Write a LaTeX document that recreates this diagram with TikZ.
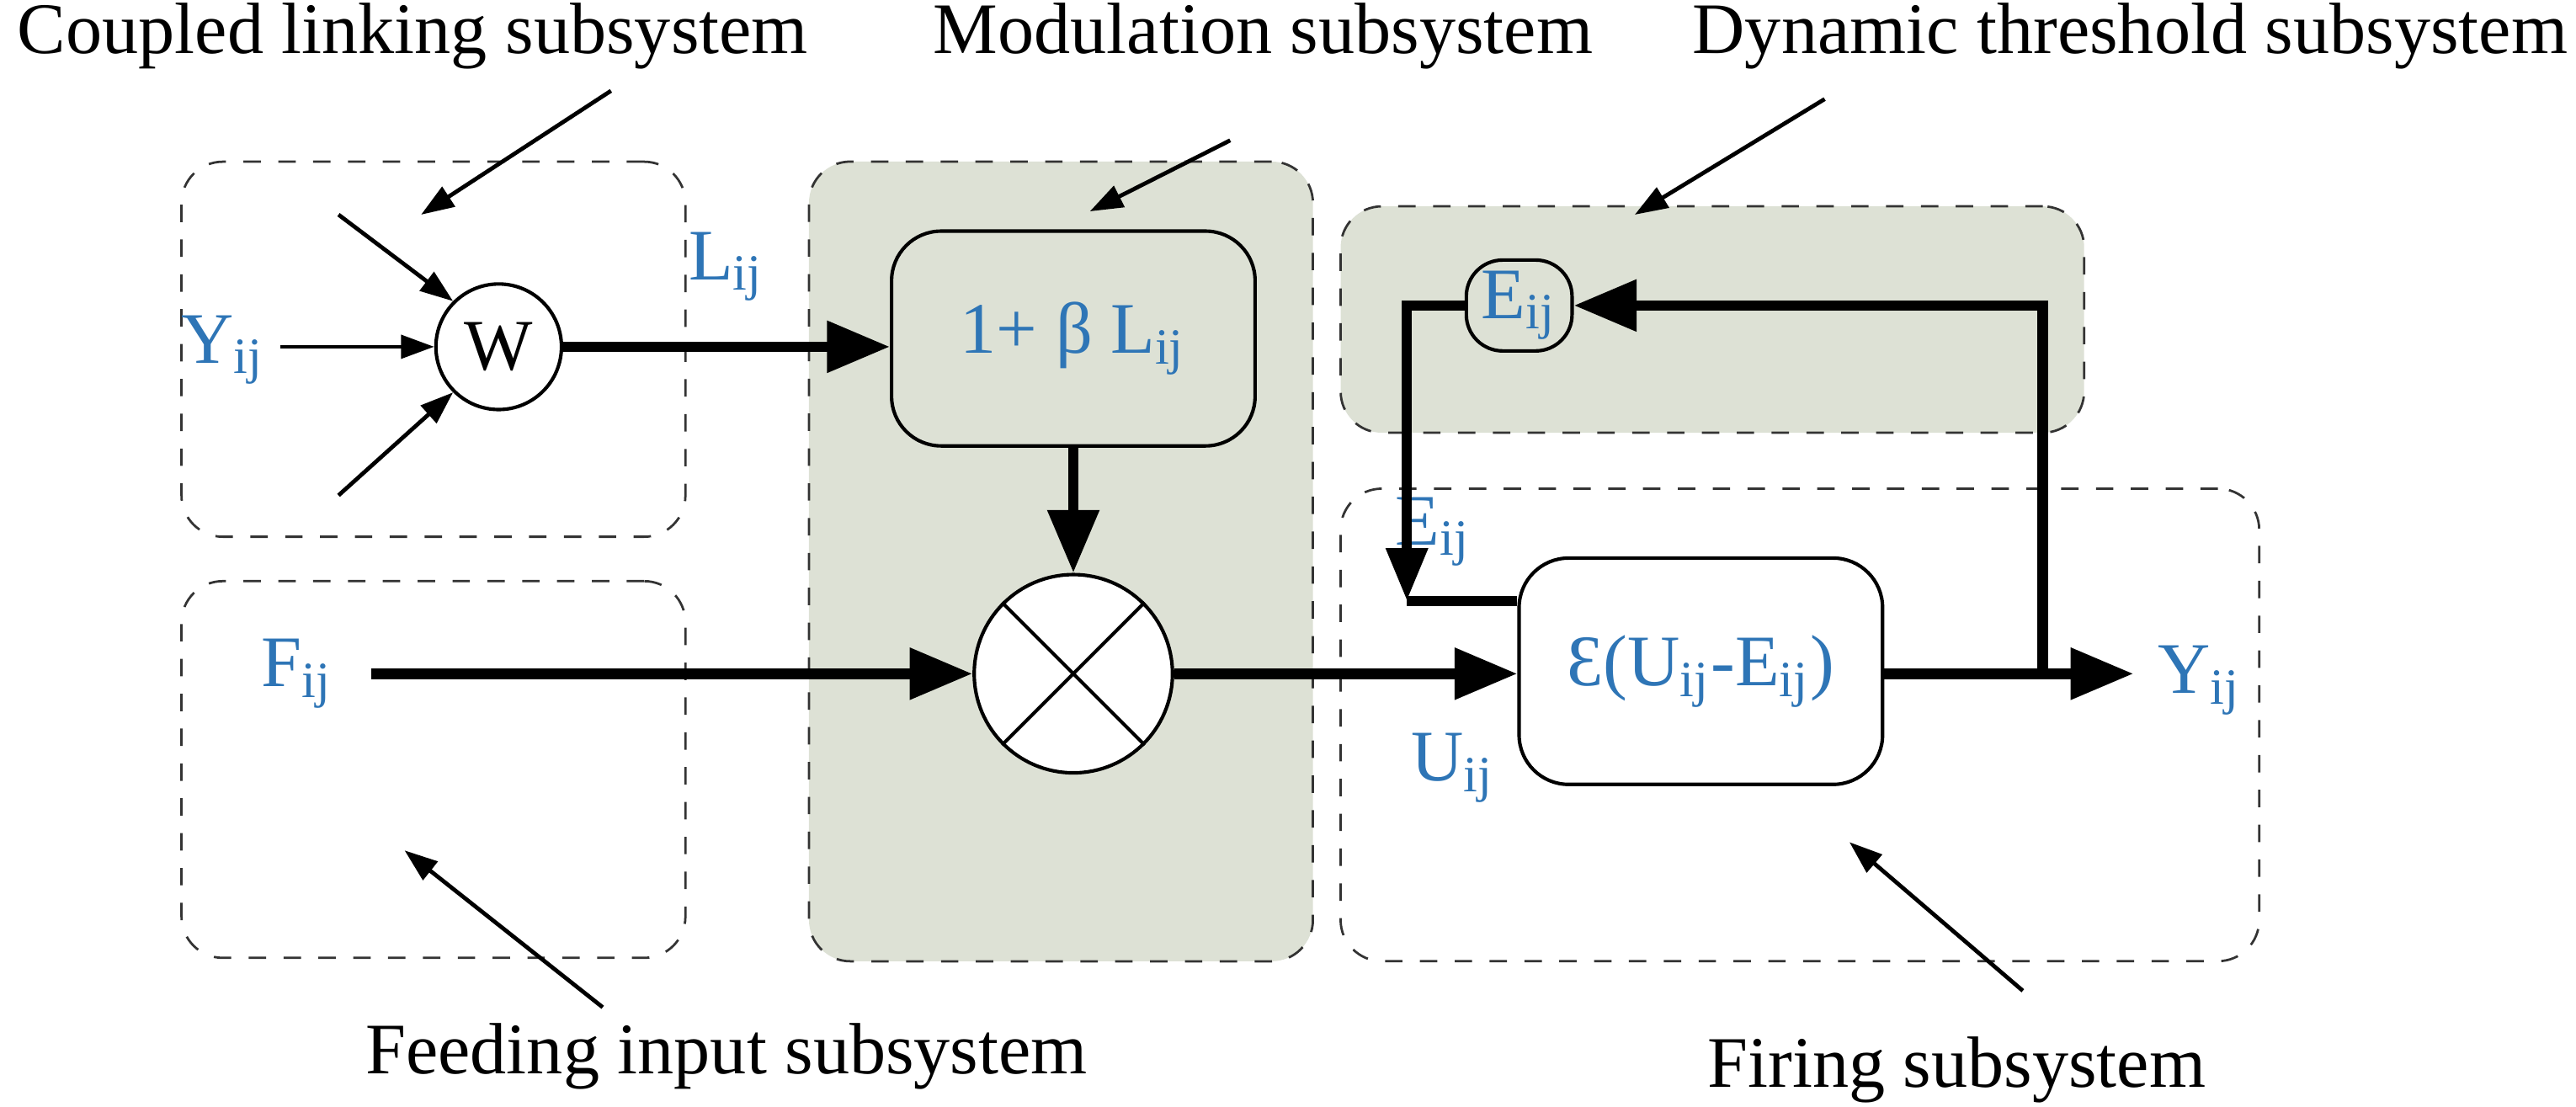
\documentclass[tikz,border=0pt]{standalone}
\usepackage{fontspec}
\setmainfont{Liberation Serif}
\usetikzlibrary{arrows.meta}
\definecolor{blu}{HTML}{2E75B6}
\definecolor{fillg}{HTML}{DDE1D5}
\begin{document}
\begin{tikzpicture}[x=0.01cm,y=-0.01cm,font=\fontsize{12.5}{14}\selectfont,
 grp/.style={draw=black!80,dashed,line width=0.4pt,rounded corners=0.25cm},
 thick arr/.style={line width=1.8pt,-{Triangle[length=0.38cm,width=0.3cm]}},
 thin arr/.style={line width=0.7pt,-{Triangle[length=0.2cm,width=0.14cm]}},
 lbl/.style={text=blu,inner sep=1pt},
 blk/.style={draw,line width=0.6pt,rounded corners=0.3cm,fill=white,text=blu}]
\useasboundingbox (0,0) rectangle (1560,670);
% groups
\node[grp,minimum width=3.05cm,minimum height=2.27cm] (gc) at (262.5,211.5) {};
\node[grp,minimum width=3.05cm,minimum height=2.28cm] (gf) at (262.5,466) {};
\node[grp,fill=fillg,minimum width=3.05cm,minimum height=4.84cm] (gm) at (642.5,340) {};
\node[grp,fill=fillg,minimum width=4.5cm,minimum height=1.37cm] (gd) at (1037,193.5) {};
\node[grp,minimum width=5.56cm,minimum height=2.86cm] (gfi) at (1090,439) {};
% titles
\node (tc) at (250,22) {Coupled linking subsystem};
\node (tm) at (765,22) {Modulation subsystem};
\node (td) at (1290,22) {Dynamic threshold subsystem};
\node (tf) at (440,640) {Feeding input subsystem};
\node (tfi) at (1185,648) {Firing subsystem};
% pointer arrows
\coordinate (p1) at (370,55); \coordinate (q1) at (255,130);
\coordinate (p2) at (745,85); \coordinate (q2) at (660,128);
\coordinate (p3) at (1105,60); \coordinate (q3) at (990,130);
\coordinate (p4) at (365,610); \coordinate (q4) at (245,515);
\coordinate (p5) at (1225,600); \coordinate (q5) at (1120,510);
\foreach \i in {1,...,5} \draw[thin arr] (p\i) -- (q\i);
% coupled linking
\node[draw,circle,line width=0.6pt,fill=white,minimum size=0.76cm,inner sep=0pt] (W) at (302,210) {W};
\node[lbl] (Y1) at (135,212) {Y\textsubscript{ij}};
\coordinate (y1s) at (170,210);
\draw[thin arr] (y1s) -- (W.west);
\coordinate (a1) at (205,130); \coordinate (a2) at (205,300);
\draw[thin arr] (a1) -- (W.north west);
\draw[thin arr] (a2) -- (W.south west);
% modulation
\node[blk,fill=fillg,minimum width=2.2cm,minimum height=1.3cm] (B) at (650,205) {1+ β L\textsubscript{ij}};
\draw[thick arr] (W.east) -- node[lbl,above=6pt,pos=0.5] {L\textsubscript{ij}} (B.west|-W.east);
\node[draw,circle,line width=0.6pt,fill=white,minimum size=1.2cm,inner sep=0pt] (M) at (650,408) {};
\draw[line width=0.6pt] (M.north west)--(M.south east) (M.north east)--(M.south west);
\draw[thick arr] (B.south) -- (M.north);
% feeding
\node[lbl] (F) at (180,408) {F\textsubscript{ij}};
\coordinate (fs) at (225,408);
\draw[thick arr] (fs) -- (M.west);
% firing
\node[blk,minimum width=2.2cm,minimum height=1.37cm] (S) at (1030,406.5) {Ɛ(U\textsubscript{ij}-E\textsubscript{ij})};
\draw[thick arr] (M.east) -- (S.west|-M.east);
\node[lbl] (U) at (880,465) {U\textsubscript{ij}};
\node[lbl] (E2) at (868,322) {E\textsubscript{ij}};
\node[lbl] (Y2) at (1332,412) {Y\textsubscript{ij}};
\coordinate (yo) at (1292,408);
\coordinate (fb) at (1237,408);
\draw[thick arr] (S.east|-fb) -- (yo);
% threshold
\node[blk,fill=fillg,rounded corners=0.22cm,minimum width=0.64cm,minimum height=0.55cm,inner sep=1pt] (E) at (920,185) {E\textsubscript{ij}};
\draw[line width=1.8pt,-{Triangle[length=0.38cm,width=0.3cm]}] (fb) |- (E.east);
\coordinate (ec) at (852,185); \coordinate (ed) at (852,364);
\draw[line width=1.8pt,-{Triangle[length=0.32cm,width=0.24cm]}] (E.west) -- (ec) -- (ed);
\draw[line width=1.8pt] (ed) -- (S.west|-ed);
\end{tikzpicture}
\end{document}
